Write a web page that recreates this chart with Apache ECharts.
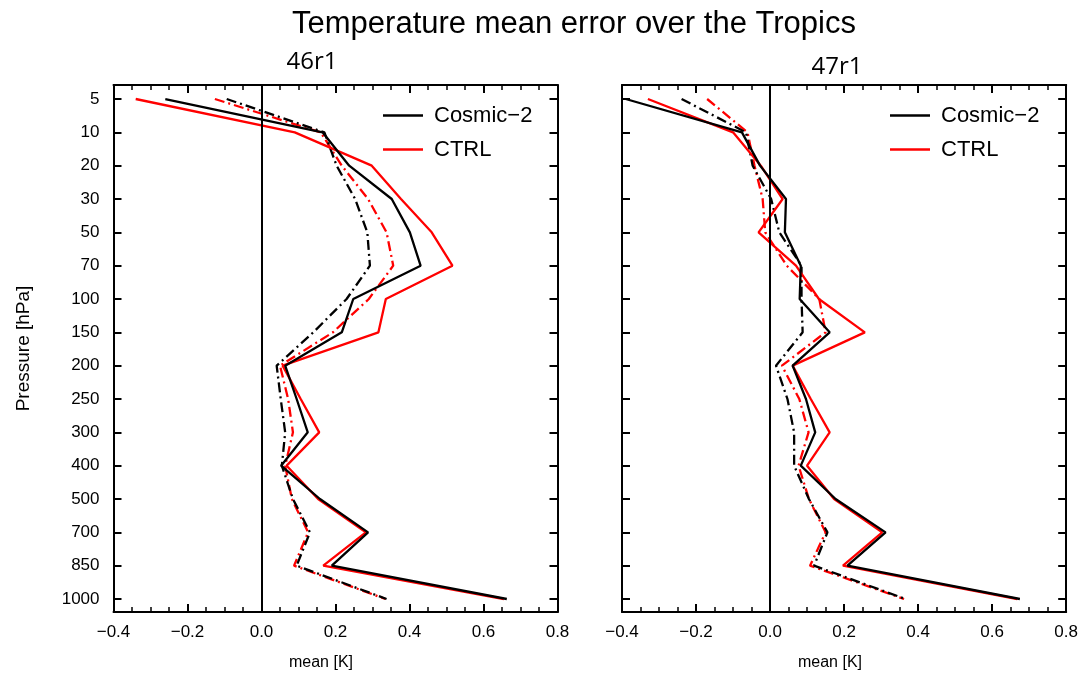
<!DOCTYPE html>
<html>
<head>
<meta charset="utf-8">
<script src="https://cdn.jsdelivr.net/npm/echarts@6/dist/echarts.min.js"></script>
<style>
html,body{margin:0;padding:0;background:#fff;}
#chart{width:1081px;height:674px;}
</style>
</head>
<body>
<div id="chart"></div>
<script>
// Pressure levels (hPa), top to bottom
var levels = ['5','10','20','30','50','70','100','150','200','250','300','400','500','700','850','1000'];
var xTicks = [-0.4, -0.2, 0.0, 0.2, 0.4, 0.6, 0.8];

// 46r1 panel
var cosmic46 = [-0.26, 0.165, 0.237, 0.352, 0.401, 0.430, 0.248, 0.217, 0.064, 0.095, 0.125, 0.053, 0.158, 0.288, 0.190, 0.663];
var ctrl46   = [-0.34, 0.090, 0.298, 0.377, 0.460, 0.516, 0.336, 0.316, 0.057, 0.106, 0.156, 0.068, 0.153, 0.282, 0.167, 0.655];
var cosmic46dd = [-0.094, 0.170, 0.203, 0.253, 0.286, 0.293, 0.230, 0.140, 0.041, 0.052, 0.064, 0.055, 0.085, 0.131, 0.095, 0.338];
var ctrl46dd   = [-0.126, 0.160, 0.217, 0.288, 0.338, 0.356, 0.290, 0.193, 0.050, 0.072, 0.085, 0.064, 0.082, 0.126, 0.088, 0.335];

// 47r1 panel
var cosmic47 = [-0.39, -0.076, -0.027, 0.043, 0.040, 0.083, 0.080, 0.161, 0.061, 0.097, 0.122, 0.083, 0.177, 0.312, 0.209, 0.675];
var ctrl47   = [-0.33, -0.100, -0.025, 0.034, -0.031, 0.070, 0.132, 0.256, 0.061, 0.110, 0.161, 0.100, 0.173, 0.303, 0.197, 0.668];
var cosmic47dd = [-0.239, -0.065, -0.047, 0.003, 0.025, 0.085, 0.085, 0.088, 0.016, 0.047, 0.065, 0.065, 0.105, 0.155, 0.119, 0.366];
var ctrl47dd   = [-0.170, -0.061, -0.042, -0.020, -0.013, 0.045, 0.133, 0.150, 0.032, 0.079, 0.104, 0.077, 0.105, 0.150, 0.108, 0.362];

var idx = levels.map(function(_, i){ return i; });
function pts(arr){ return arr.map(function(v, i){ return [v, i]; }); }

var FONT = '"Liberation Sans", Arial, sans-serif';
var RED = '#ff0000', BLACK = '#000000';
var DASHDOT = [10, 4, 2, 4];
var LW = 2.3;

function fmtX(v){
  var s = Math.abs(v).toFixed(1);
  return (v < -1e-9 ? '\u2212' : '') + s;
}

function xAxes(gi){
  var base = {
    type: 'value', gridIndex: gi, min: -0.4, max: 0.8, interval: 0.2,
    axisLine: {show: true, onZero: false, lineStyle: {color: BLACK, width: 2}},
    axisTick: {show: true, inside: true, length: 8, lineStyle: {color: BLACK, width: 2}},
    minorTick: {show: true, splitNumber: 4, length: 5, lineStyle: {color: BLACK, width: 1.5}},
    splitLine: {show: false}, minorSplitLine: {show: false}
  };
  var bottom = Object.assign({}, base, {
    position: 'bottom',
    axisLabel: {show: true, fontFamily: FONT, fontSize: 17, color: BLACK, margin: 12, formatter: fmtX}
  });
  var top = Object.assign({}, base, {position: 'top', axisLabel: {show: false}});
  return [bottom, top];
}

function yAxes(gi, showLabels){
  var base = {
    type: 'value', gridIndex: gi, inverse: true, min: -0.42, max: 15.39,
    axisLine: {show: true, onZero: false, lineStyle: {color: BLACK, width: 2}},
    axisTick: {show: true, inside: true, length: 8, customValues: idx, lineStyle: {color: BLACK, width: 2}},
    splitLine: {show: false}
  };
  var left = Object.assign({}, base, {
    position: 'left',
    axisLabel: {show: showLabels, customValues: idx, fontFamily: FONT, fontSize: 17, color: BLACK, margin: 14,
      formatter: function(v){ return levels[Math.round(v)]; }}
  });
  if (showLabels) {
    left.name = 'Pressure [hPa]';
    left.nameLocation = 'middle';
    left.nameGap = 80;
    left.nameTextStyle = {fontFamily: FONT, fontSize: 19, color: BLACK};
  }
  var right = Object.assign({}, base, {position: 'right', axisLabel: {show: false}});
  return [left, right];
}

function lineSeries(name, data, color, dash, xi, yi, withZero){
  var s = {
    type: 'line', name: name, data: pts(data), xAxisIndex: xi, yAxisIndex: yi,
    symbol: 'none', silent: true, animation: false,
    lineStyle: {color: color, width: LW, type: dash ? DASHDOT : 'solid'},
    itemStyle: {color: color}
  };
  if (withZero) {
    s.markLine = {
      silent: true, symbol: ['none', 'none'], label: {show: false},
      lineStyle: {color: BLACK, width: 2, type: 'solid'},
      data: [{xAxis: 0}]
    };
  }
  return s;
}

var xa = xAxes(0).concat(xAxes(1));
var ya = yAxes(0, true).concat(yAxes(1, false));

function legendAt(left){
  return {data: ['Cosmic\u22122', 'CTRL'], orient: 'vertical', left: left, top: 104, padding: 0,
    icon: 'rect', itemWidth: 40, itemHeight: 2.3, itemGap: 11, selectedMode: false,
    textStyle: {fontFamily: FONT, fontSize: 22, lineHeight: 23, color: BLACK, padding: [0, 0, 0, 6]}};
}

var option = {
  backgroundColor: '#ffffff',
  animation: false,
  title: [
    {text: 'Temperature mean error over the Tropics', left: 569, top: 4, textAlign: 'center',
     textStyle: {fontFamily: FONT, fontSize: 31, fontWeight: 'normal', color: BLACK}},
    {text: '46r1', left: 307, top: 45, textAlign: 'center',
     textStyle: {fontFamily: '"Open Sans", sans-serif', fontSize: 24, fontWeight: 'normal', color: BLACK}},
    {text: '47r1', left: 832, top: 50, textAlign: 'center',
     textStyle: {fontFamily: '"Open Sans", sans-serif', fontSize: 24, fontWeight: 'normal', color: BLACK}},
    {text: 'mean [K]', left: 316, top: 650, textAlign: 'center',
     textStyle: {fontFamily: FONT, fontSize: 16, fontWeight: 'normal', color: BLACK}},
    {text: 'mean [K]', left: 825, top: 650, textAlign: 'center',
     textStyle: {fontFamily: FONT, fontSize: 16, fontWeight: 'normal', color: BLACK}}
  ],
  legend: [legendAt(383), legendAt(890)],
  grid: [
    {left: 113.5, top: 85, width: 444, height: 527, containLabel: false},
    {left: 622, top: 85, width: 446, height: 527, containLabel: false}
  ],
  xAxis: xa,
  yAxis: ya,
  series: [
    lineSeries('CTRL dd', ctrl46dd, RED, true, 0, 0, true),
    lineSeries('Cosmic dd', cosmic46dd, BLACK, true, 0, 0, false),
    lineSeries('CTRL', ctrl46, RED, false, 0, 0, false),
    lineSeries('Cosmic\u22122', cosmic46, BLACK, false, 0, 0, false),
    lineSeries('CTRL dd', ctrl47dd, RED, true, 2, 2, true),
    lineSeries('Cosmic dd', cosmic47dd, BLACK, true, 2, 2, false),
    lineSeries('CTRL', ctrl47, RED, false, 2, 2, false),
    lineSeries('Cosmic\u22122', cosmic47, BLACK, false, 2, 2, false)
  ]
};

var chart = echarts.init(document.getElementById('chart'), null, {renderer: 'canvas'});
chart.setOption(option);
</script>
</body>
</html>
